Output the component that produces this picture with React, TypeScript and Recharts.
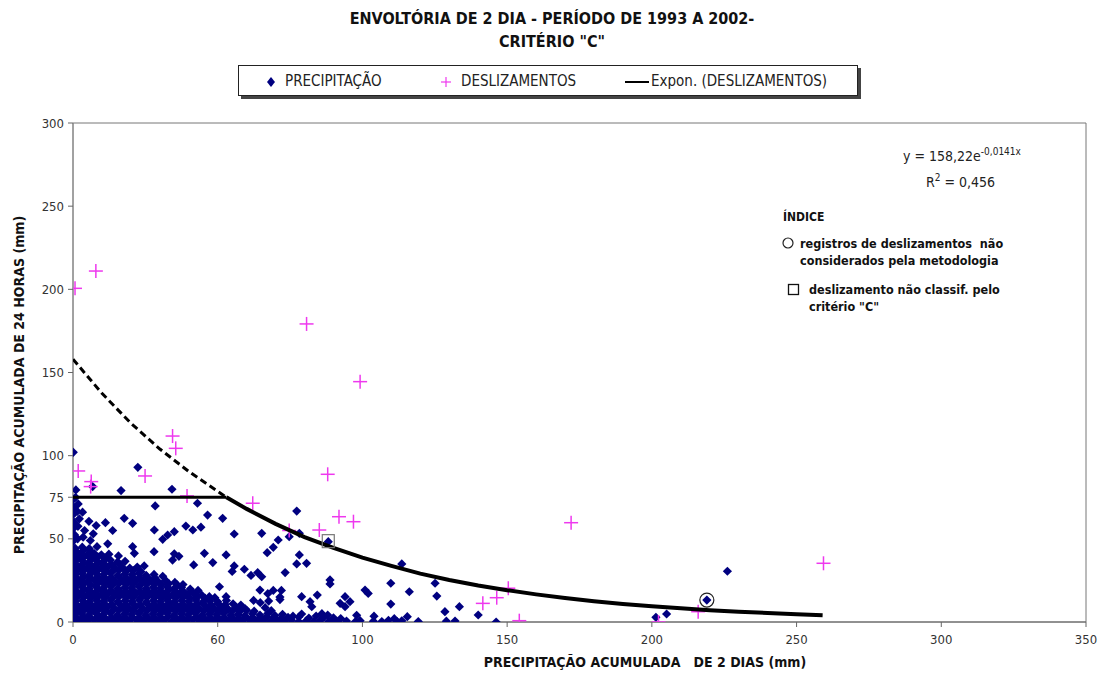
import React from "react";
import {
  ScatterChart,
  Scatter,
  XAxis,
  YAxis,
  ZAxis,
  ReferenceArea,
} from "recharts";

const FONT = "'Liberation Sans Narrow', 'DejaVu Sans Condensed', 'Liberation Sans', Arial, sans-serif";
const NAVY = "#000080";
const PINK = "#ee38ee";

// ---------- tick labels ----------
const xTicks = [0, 50, 100, 150, 200, 250, 300, 350];
const xTickLabels = ["0", "60", "100", "150", "200", "250", "300", "350"];
const yTicks = [0, 50, 75, 100, 150, 200, 250, 300];

// ---------- PRECIPITAÇÃO (x = 2-day accumulated, y = 24h accumulated) ----------
const precipDense: [number, number][] = [
  [0, 0.5], [2.4, 1], [4.8, 0.3], [7.3, 1.2], [9.7, 0.4], [12.1, 1], [14.6, 0.2], [17, 1.1], [19.4, 0.5], [21.9, 1.3],
  [24.3, 0.2], [26.8, 0.9], [29.2, 0.4], [31.6, 1.2], [34.1, 0.3], [36.5, 1], [38.9, 0.5], [41.4, 1.3], [43.8, 0.2], [46.2, 0.8],
  [48.7, 0.4], [51.1, 1.1], [53.5, 0.3], [56, 0.9], [58.4, 0.2], [60.9, 1.2], [63.3, 0.5], [65.7, 0.9], [68.2, 0.3], [70.6, 1],
  [73, 0.4], [75.5, 1.1], [78, 0.3], [80.6, 0.8], [83.2, 0.2], [85.5, 1], [88.4, 0.4], [91, 0.2], [94.5, 0.6], [97.6, 0.3],
  [1.2, 2.6], [3.6, 2.9], [6, 2.4], [8.5, 3], [10.9, 2.7], [13.3, 2.5], [15.8, 3.1], [18.2, 2.6], [20.6, 2.8], [23.1, 2.4],
  [25.5, 3], [28, 2.7], [30.4, 2.5], [32.8, 3.1], [35.3, 2.6], [37.7, 2.8], [40.1, 2.4], [42.6, 3], [45, 2.7], [47.4, 2.5],
  [49.9, 3.1], [52.3, 2.6], [54.8, 2.8], [57.2, 2.4], [59.6, 3], [62.1, 2.7], [64.5, 2.5], [67, 3.1], [69.4, 2.6], [72, 2.2],
  [74.3, 2.8], [81.5, 2.4], [86.7, 2.9], [92.5, 2.1],
  [0.6, 4.3], [3, 5], [5.5, 4.2], [8, 5.1], [10.4, 4.4], [12.9, 5.3], [15.3, 4], [17.8, 4.9], [20.2, 4.5], [22.7, 5.2],
  [25.1, 4.1], [27.6, 4.8], [30, 4.4], [32.5, 5.3], [34.9, 4.2], [37.4, 4.9], [39.8, 4.3], [42.3, 5.1], [44.7, 4], [47.2, 4.7],
  [49.6, 4.5], [52, 5.2], [54.5, 4.1], [57, 4.6], [59.4, 3.8], [62, 5], [64.6, 4.2], [67.3, 5.1], [69.8, 3.9], [72.4, 4.6],
  [76, 3.5], [79, 4.8], [84, 3.6], [88, 4.2],
  [1.2, 6.6], [3.7, 7], [6.1, 6.4], [8.6, 7.1], [11, 6.7], [13.5, 6.5], [15.9, 7.2], [18.4, 6.6], [20.8, 6.9], [23.3, 6.4],
  [25.7, 7], [28.2, 6.7], [30.6, 6.5], [33.1, 7.1], [35.5, 6.6], [38, 6.8], [40.4, 6.4], [42.9, 7], [45.3, 6.7], [47.8, 6.5],
  [50.2, 7.1], [52.7, 6.6], [55.1, 6.8], [57.6, 6.3], [60, 7], [62.6, 6.5], [68.5, 6.8],
  [0, 8.4], [2.2, 9], [4.6, 8.2], [7.1, 9.1], [9.5, 8.5], [12, 9.3], [14.4, 8.1], [16.9, 8.8], [19.3, 8.4], [21.8, 9.2],
  [24.2, 8], [26.7, 8.9], [29.1, 8.3], [31.6, 9.1], [34, 8.2], [36.5, 8.9], [38.9, 8.4], [41.4, 9.2], [43.8, 7.9], [46.3, 8.7],
  [48.7, 8.3], [51.2, 9], [53.6, 7.8], [56.5, 8.6], [59.5, 7.9],
  [1.1, 10.6], [3.6, 11], [6, 10.4], [8.5, 11.1], [10.9, 10.7], [13.4, 10.5], [15.8, 11.2], [18.3, 10.6], [20.7, 10.9], [23.2, 10.4],
  [25.6, 11], [28.1, 10.7], [30.5, 10.5], [33, 11.1], [35.4, 10.6], [37.9, 10.8], [40.3, 10.4], [42.8, 11], [45.2, 10.7], [47.7, 10.4],
  [50.1, 11], [52.6, 10.5], [55.3, 10.9], [58, 10.2],
  [0.8, 12.4], [3.3, 13], [5.7, 12.2], [8.2, 13.1], [10.6, 12.5], [13.1, 13.3], [15.5, 12.1], [18, 12.8], [20.4, 12.4], [22.9, 13.2],
  [25.3, 12], [27.8, 12.9], [30.2, 12.3], [32.7, 13.1], [35.1, 12.2], [37.6, 12.9], [40, 12.4], [42.5, 13.2], [44.9, 12], [47.3, 12.7],
  [50, 12.2], [53, 13],
  [1.2, 14.6], [3.7, 15], [6.1, 14.4], [8.6, 15.1], [11, 14.7], [13.5, 14.5], [15.9, 15.2], [18.4, 14.6], [20.8, 14.9], [23.3, 14.4],
  [25.7, 15], [28.2, 14.7], [30.6, 14.5], [33.1, 15.1], [35.5, 14.6], [38, 14.8], [40.4, 14.4], [42.9, 15], [45.6, 14.3], [49, 14.6],
  [0, 16.5], [2.4, 17], [4.9, 16.2], [7.3, 17.1], [9.8, 16.5], [12.2, 17.3], [14.7, 16.1], [17.1, 16.8], [19.6, 16.4], [22, 17.2],
  [24.5, 16], [26.9, 16.9], [29.4, 16.3], [31.8, 17.1], [34.3, 16.2], [36.7, 16.9], [39.2, 16.4], [41.8, 17], [44.5, 16.1],
  [1.1, 18.6], [3.6, 19], [6, 18.4], [8.5, 19.1], [10.9, 18.7], [13.4, 18.5], [15.8, 19.2], [18.3, 18.6], [20.7, 18.9], [23.2, 18.4],
  [25.6, 19], [28.1, 18.7], [30.5, 18.5], [33, 19.1], [35.4, 18.6], [37.9, 18.8], [40.6, 18.2], [43.2, 19],
  [0.7, 20.4], [3.2, 21], [5.6, 20.2], [8.1, 21.1], [10.5, 20.5], [13, 21.3], [15.4, 20.1], [17.9, 20.8], [20.3, 20.4], [22.8, 21.2],
  [25.2, 20], [27.7, 20.9], [30.1, 20.3], [32.6, 21.1], [35, 20.2], [37.5, 20.7], [40.5, 19.8],
  [1.2, 22.6], [3.7, 23], [6.1, 22.4], [8.6, 23.1], [11, 22.7], [13.5, 22.5], [15.9, 23.2], [18.4, 22.6], [20.8, 22.9], [23.3, 22.4],
  [25.7, 23], [28.2, 22.7], [30.6, 22.5], [33.1, 23.1], [36, 22.3],
  [0, 24.5], [2.5, 25], [4.9, 24.2], [7.4, 25.1], [9.8, 24.5], [12.3, 25.3], [14.7, 24.1], [17.2, 24.8], [19.6, 24.4], [22.1, 25.2],
  [24.5, 24], [27, 24.9], [29.4, 24.3], [32, 25], [35.2, 23.8], [38, 22.5],
  [1.1, 26.6], [3.6, 27], [6, 26.4], [8.5, 27.1], [10.9, 26.7], [13.4, 26.5], [15.8, 27.2], [18.3, 26.6], [20.7, 26.9], [23.2, 26.4],
  [25.6, 27], [28.3, 26.5],
  [0.8, 28.4], [3.2, 29], [5.7, 28.2], [8.1, 29.1], [10.6, 28.5], [13, 29.3], [15.5, 28.1], [17.9, 28.8], [20.4, 28.4], [22.8, 29.2],
  [25.3, 28], [28, 28.6], [31, 27.5],
  [1.2, 30.6], [3.7, 31], [6.1, 30.4], [8.6, 31.1], [11, 30.7], [13.5, 30.5], [15.9, 31.2], [18.4, 30.6], [20.8, 30.9], [23.5, 30.2],
  [0, 32.5], [2.4, 33], [4.9, 32.2], [7.3, 33.1], [9.8, 32.5], [12.2, 33.3], [14.7, 32.1], [17.1, 32.8], [19.6, 32.4], [22.2, 33],
  [1.1, 34.6], [3.6, 35], [6, 34.4], [8.5, 35.1], [10.9, 34.7], [13.4, 34.5], [16, 35],
  [0.7, 36.4], [3.1, 37], [5.6, 36.2], [8, 37.1], [10.5, 36.5], [12.9, 37.3], [15.4, 36.1], [18, 36.5],
  [1.2, 38.6], [3.7, 39], [6.1, 38.4], [8.6, 39.1], [11, 38.6],
  [0, 40.5], [2.5, 41], [4.9, 40.2], [7.4, 41.1], [9.8, 40.4], [12.4, 40.8],
  [1.1, 42.6], [3.6, 43], [6.2, 42.5],
  [0.7, 44.4], [3.2, 45], [5.6, 44.2], [8.3, 45.3],
  [0, 48.5], [1.6, 50], [0.5, 52.5], [3.5, 51], [0, 56], [1.7, 57.5], [0.4, 60], [2.2, 62], [0, 64.5], [1.5, 66.5],
  [0.3, 69], [1.8, 71], [0, 73.5], [0.9, 75], [4, 55], [6, 49], [5.5, 60.5], [8, 58], [3.3, 66], [7, 53],
];

const precipScattered: [number, number][] = [
  [0.1, 102], [1, 79.4], [22.4, 93], [6.8, 81.4], [16.6, 79], [34.2, 79.8], [28.4, 69.8], [43, 71.4], [46.5, 64.3], [51.7, 62.3],
  [17.7, 62.3], [20.6, 59.3], [11.2, 59.7], [13.7, 55], [28.1, 55.3], [35, 54.3], [32.7, 52.3], [31, 49.7], [39, 57.7], [41.4, 55.3],
  [44.2, 57], [55.7, 52.9], [12, 47], [20.6, 45.3], [21.2, 41.3], [28, 42.3], [35, 41], [36.6, 39.5], [34.4, 37.2], [45.4, 41.3],
  [52.9, 40.3], [15.7, 39.7], [24.6, 33.7], [41.7, 34.3], [48.3, 35.7], [55.7, 33.7], [59.2, 31.7], [63.8, 29.7], [55, 30.4], [61.5, 28],
  [47.1, 15.2], [52.9, 15.2], [50.6, 21.2], [62.4, 13], [64.7, 11.6], [66.4, 8.6],
  [77.3, 66.7], [65.2, 53.3], [78.2, 53.3], [70.9, 49.3], [69.2, 44.9], [67.1, 41.7], [74.7, 51.3], [88.2, 48.3], [78.2, 40.3], [77.3, 34.9],
  [80.7, 35.3], [73.3, 29.7], [88.8, 25.3], [88.8, 22.9], [113.6, 34.9], [109.8, 23.3], [125.1, 23.3], [125.7, 15.6], [116.2, 18.2], [100.9, 19.2],
  [102, 17.2], [84.4, 16.2], [79, 15.2], [65.2, 27.2], [64.6, 19.2], [67.3, 17], [69.2, 19], [72, 19], [71.5, 15], [71.5, 13.5],
  [67.6, 12.6], [94, 15.2], [92.3, 11.2], [95.7, 12.2], [94, 9.2], [81.9, 12.2], [82.5, 9.2], [109.8, 10.8], [133.5, 9.2], [128.5, 6.2],
  [115.5, 3.2], [140, 4.2], [78, 3], [86, 5], [90, 2.5], [98, 4], [104, 3.5], [111, 2],
  [99.2, 0.8], [103.8, 0.5], [106.7, 0.3], [109, 1], [111.9, 0.4], [113.6, 0.7], [119.3, 0.3], [129, 0.5], [132, 0.6], [146.2, 0],
  [201.4, 2.8], [205.1, 4.8], [219, 13.2], [226.1, 30.5],
];

// ---------- DESLIZAMENTOS ----------
const deslizamentos: [number, number][] = [
  [0.7, 200.6], [7.9, 211], [80.7, 179.2], [99.2, 144.5], [34.4, 111.8], [35.5, 104.4], [1.8, 90.8], [6.3, 84.4], [6.1, 81.4],
  [24.9, 87.8], [88, 88.8], [39.4, 75.8], [62.1, 71.4], [74.7, 55], [85.1, 55.3], [91.9, 63.3], [96.9, 60.3], [172.1, 59.7],
  [259.3, 35.3], [141.6, 11.2], [146.4, 14.6], [150.4, 20.3], [154.2, 0.8], [202.3, 0], [216, 6.2],
];

// marked records (índice)
const naoConsiderados: [number, number][] = [[219, 13.2]];
const naoClassificados: [number, number][] = [[88.2, 48.3]];

// ---------- envelope / Expon. (DESLIZAMENTOS) ----------
const envelopeFlat: [number, number][] = [[0, 75], [53, 75]];
const trendDashed: [number, number][] = [[0, 158], [10, 137.5], [20, 119.5], [30, 104], [40, 90.5], [53, 75]];
const trendSolid: [number, number][] = [
  [53, 75], [60, 68], [70, 59], [80, 51], [90, 44.5], [100, 38.7], [110, 33.7], [120, 29.1], [130, 25.3], [140, 22],
  [150, 19.1], [160, 16.6], [170, 14.4], [180, 12.5], [190, 10.8], [200, 9.4], [210, 8.2], [220, 7.1], [230, 6.2], [240, 5.4],
  [250, 4.7], [259, 4.1],
];

const toRows = (pts: [number, number][]) => pts.map(([x, y]) => ({ x, y }));

const Diamond = (p: any) => {
  const { cx, cy } = p;
  const r = 4.6;
  return <polygon points={`${cx},${cy - r} ${cx + r},${cy} ${cx},${cy + r} ${cx - r},${cy}`} fill={NAVY} />;
};
const Cross = (p: any) => {
  const { cx, cy } = p;
  const r = 7;
  return (
    <g stroke={PINK} strokeWidth={1.5}>
      <line x1={cx - r} y1={cy} x2={cx + r} y2={cy} />
      <line x1={cx} y1={cy - r} x2={cx} y2={cy + r} />
    </g>
  );
};
const Ring = (p: any) => <circle cx={p.cx} cy={p.cy} r={7} fill="none" stroke="#222" strokeWidth={1.2} />;
const Box = (p: any) => <rect x={p.cx - 6} y={p.cy - 7} width={12} height={13} fill="none" stroke="#777" strokeWidth={1.2} />;
const Nothing = () => <g />;

const tickStyle = { fill: "#333", fontSize: 13, fontFamily: FONT };

export default function App() {
  return (
    <div style={{ position: "absolute", left: 0, top: 0, width: 1104, height: 682, background: "#fff", fontFamily: FONT }}>
      <div style={{ position: "absolute", left: 0, width: 1104, top: 7, textAlign: "center", fontWeight: "bold", fontSize: 16, lineHeight: "23px", color: "#111" }}>
        ENVOLTÓRIA DE 2 DIA - PERÍODO DE 1993 A 2002-
        <br />
        CRITÉRIO "C"
      </div>

      {/* legend */}
      <div style={{ position: "absolute", left: 238, top: 65, width: 618, height: 29, border: "1px solid #222", boxShadow: "3px 3px 0 #444", background: "#fff", fontSize: 15, color: "#222" }}>
        <svg style={{ position: "absolute", left: 26, top: 10 }} width={12} height={12}>
          <polygon points="6,1 10,6 6,11 2,6" fill={NAVY} />
        </svg>
        <span style={{ position: "absolute", left: 46, top: 6 }}>PRECIPITAÇÃO</span>
        <svg style={{ position: "absolute", left: 200, top: 9 }} width={14} height={14}>
          <line x1={2} y1={7} x2={12} y2={7} stroke={PINK} strokeWidth={1.2} />
          <line x1={7} y1={2} x2={7} y2={12} stroke={PINK} strokeWidth={1.2} />
        </svg>
        <span style={{ position: "absolute", left: 222, top: 6 }}>DESLIZAMENTOS</span>
        <div style={{ position: "absolute", left: 386, top: 15, width: 24, height: 2, background: "#000" }} />
        <span style={{ position: "absolute", left: 412, top: 6 }}>Expon. (DESLIZAMENTOS)</span>
      </div>

      {/* axis titles */}
      <div style={{ position: "absolute", left: 19 - 200, top: 385 - 9, width: 400, height: 18, lineHeight: "18px", textAlign: "center", transform: "rotate(-90deg)", fontWeight: "bold", fontSize: 14, color: "#111", whiteSpace: "nowrap" }}>
        PRECIPITAÇÃO ACUMULADA DE 24 HORAS (mm)
      </div>
      <div style={{ position: "absolute", left: 645 - 250, top: 654, width: 500, textAlign: "center", fontWeight: "bold", fontSize: 14, color: "#111", whiteSpace: "pre" }}>
        {"PRECIPITAÇÃO ACUMULADA   DE 2 DIAS (mm)"}
      </div>

      <ScatterChart width={1104} height={682} margin={{ top: 123, right: 18, bottom: 0, left: 13 }} style={{ position: "absolute", left: 0, top: 0 }}>
        <XAxis
          type="number"
          dataKey="x"
          domain={[0, 350]}
          ticks={xTicks}
          tickFormatter={(v: number) => xTickLabels[xTicks.indexOf(v)]}
          height={60}
          axisLine={{ stroke: "#666" }}
          tickLine={{ stroke: "#666" }}
          tickSize={5}
          tickMargin={8}
          tick={tickStyle}
          allowDataOverflow
        />
        <YAxis
          type="number"
          dataKey="y"
          domain={[0, 300]}
          ticks={yTicks}
          width={60}
          axisLine={{ stroke: "#888" }}
          tickLine={{ stroke: "#666" }}
          tickSize={5}
          tickMargin={4}
          tick={tickStyle}
          allowDataOverflow
        />
        <ZAxis range={[60, 60]} />
        <ReferenceArea x1={0} x2={350} y1={0} y2={300} fill="none" stroke="#777" strokeWidth={1} />
        <Scatter name="PRECIPITAÇÃO" data={toRows([...precipDense, ...precipScattered])} shape={Diamond} isAnimationActive={false} />
        <Scatter name="DESLIZAMENTOS" data={toRows(deslizamentos)} shape={Cross} isAnimationActive={false} />
        <Scatter data={toRows(envelopeFlat)} line={{ stroke: "#000", strokeWidth: 3 }} shape={Nothing} isAnimationActive={false} />
        <Scatter data={toRows(trendDashed)} line={{ stroke: "#000", strokeWidth: 3, strokeDasharray: "7 4" }} shape={Nothing} isAnimationActive={false} />
        <Scatter name="Expon. (DESLIZAMENTOS)" data={toRows(trendSolid)} line={{ stroke: "#000", strokeWidth: 4 }} shape={Nothing} isAnimationActive={false} />
        <Scatter data={toRows(naoConsiderados)} shape={Ring} isAnimationActive={false} />
        <Scatter data={toRows(naoClassificados)} shape={Box} isAnimationActive={false} />
      </ScatterChart>

      {/* equation & index */}
      <div style={{ position: "absolute", left: 903, top: 146, fontSize: 14, color: "#222", whiteSpace: "nowrap" }}>
        y = 158,22e<sup style={{ fontSize: 10 }}>-0,0141x</sup>
      </div>
      <div style={{ position: "absolute", left: 926, top: 172, fontSize: 14, color: "#222", whiteSpace: "nowrap" }}>
        R<sup style={{ fontSize: 10 }}>2</sup> = 0,456
      </div>
      <div style={{ position: "absolute", left: 783, top: 210, fontSize: 12, fontWeight: "bold", color: "#111" }}>ÍNDICE</div>
      <svg style={{ position: "absolute", left: 781, top: 236 }} width={14} height={14}>
        <circle cx={7} cy={7} r={5} fill="none" stroke="#222" strokeWidth={1.2} />
      </svg>
      <div style={{ position: "absolute", left: 800, top: 235, fontSize: 12.5, fontWeight: "bold", color: "#111", lineHeight: "17px", whiteSpace: "pre" }}>
        {"registros de deslizamentos  não\nconsiderados pela metodologia"}
      </div>
      <svg style={{ position: "absolute", left: 787, top: 283 }} width={14} height={14}>
        <rect x={1.5} y={1.5} width={10} height={10} fill="none" stroke="#111" strokeWidth={1.3} />
      </svg>
      <div style={{ position: "absolute", left: 809, top: 281, fontSize: 12.5, fontWeight: "bold", color: "#111", lineHeight: "17px", whiteSpace: "pre" }}>
        {"deslizamento não classif. pelo\ncritério \"C\""}
      </div>
    </div>
  );
}
